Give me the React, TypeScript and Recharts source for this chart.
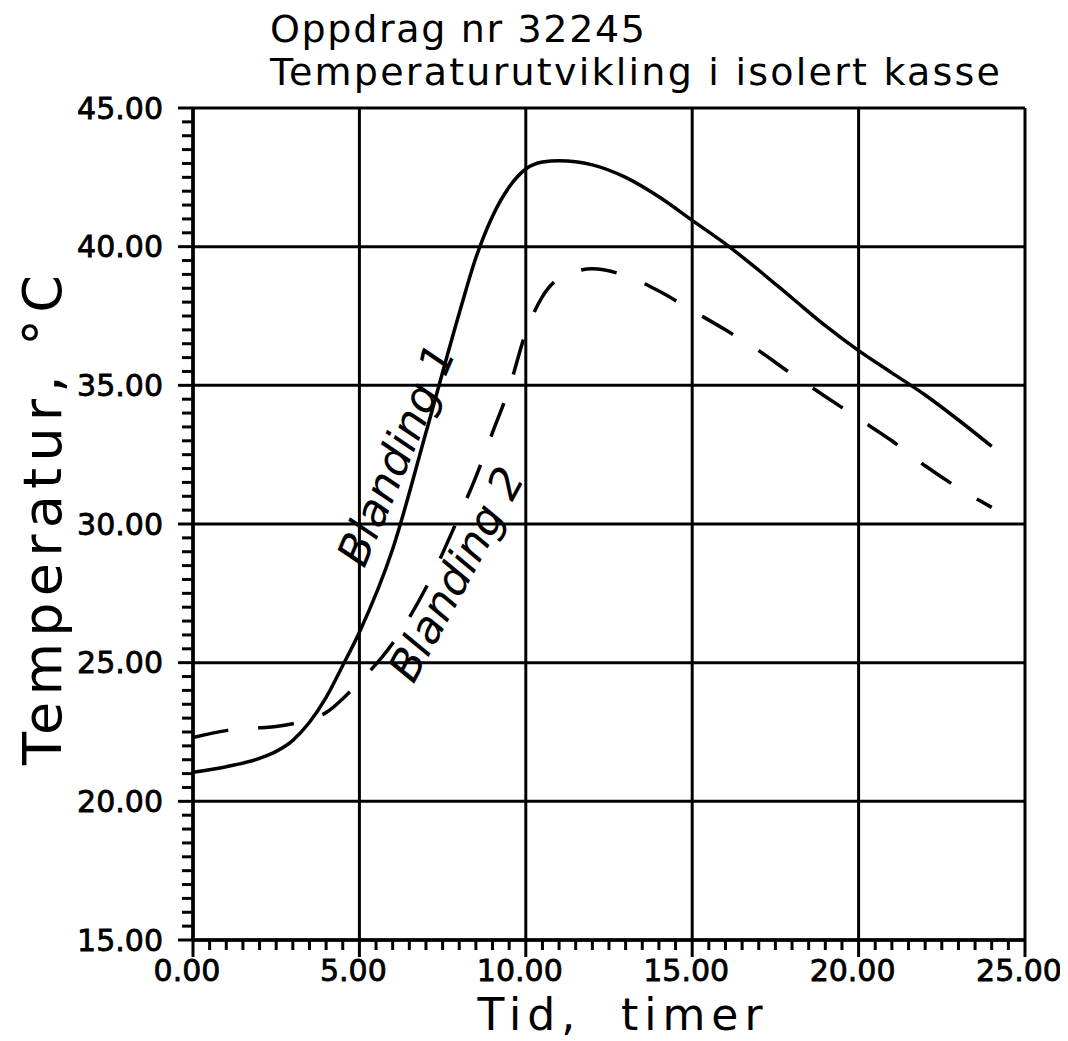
import { CartesianGrid, Line, LineChart, ReferenceDot, XAxis, YAxis } from 'recharts'

const FONT = 'DejaVu Sans'

// time in hours
const hours = [0, 1, 2, 2.5, 3, 3.5, 4, 4.5, 5, 6, 7, 8, 8.5, 9, 9.5, 10, 10.5, 11, 12, 13, 14, 15, 16, 17, 18, 19, 20, 21, 22, 23, 24]
const blanding1 = [21.05, 21.25, 21.55, 21.8, 22.2, 22.85, 23.75, 24.9, 26.1, 29.1, 33.3, 37.6, 39.6, 41.1, 42.15, 42.8, 43.05, 43.1, 42.95, 42.5, 41.8, 40.95, 40.1, 39.15, 38.15, 37.15, 36.25, 35.45, 34.65, 33.75, 32.8]
const blanding2 = [22.3, 22.55, 22.65, 22.7, 22.8, 22.95, 23.2, 23.7, 24.3, 25.7, 27.7, 30.3, 31.7, 33.3, 34.9, 36.9, 38.2, 38.85, 39.2, 38.95, 38.4, 37.7, 37.0, 36.25, 35.4, 34.6, 33.8, 33.0, 32.1, 31.3, 30.6]

const xMajor = [0, 5, 10, 15, 20, 25]
const yMajor = [15, 20, 25, 30, 35, 40, 45]
// minor ticks every half unit
const xTicks = Array.from({ length: 51 }, (_, i) => i * 0.5)
const yTicks = Array.from({ length: 61 }, (_, i) => 15 + i * 0.5)

const data = hours.map((t, i) => ({ t, b1: blanding1[i], b2: blanding2[i] }))

const XTick = ({ x, y, payload }: any) => {
    const v = payload.value
    const major = v % 5 === 0
    return (
        <g>
            <line x1={x} x2={x} y1={y} y2={y + (major ? 17 : 10)} stroke="#000" strokeWidth={3} />
            {major && (
                <text x={x - 6} y={y + 41} textAnchor="middle" fontSize={30} fontFamily={FONT} fill="#000" stroke="#000" strokeWidth={0.8}>
                    {v.toFixed(2)}
                </text>
            )}
        </g>
    )
}

const YTick = ({ x, y, payload }: any) => {
    const v = payload.value
    const major = v % 5 === 0
    return (
        <g>
            <line x1={x - (major ? 15 : 11)} x2={x} y1={y} y2={y} stroke="#000" strokeWidth={3} />
            {major && (
                <text x={x - 30} y={y} textAnchor="end" dominantBaseline="central" fontSize={30} fontFamily={FONT} fill="#000" stroke="#000" strokeWidth={0.8}>
                    {v.toFixed(2)}
                </text>
            )}
        </g>
    )
}

const handNote = (text: string, angle: number) => (props: any) => {
    const vb = props.viewBox
    const cx = vb.x + vb.width / 2
    const cy = vb.y + vb.height / 2
    return (
        <text
            x={cx}
            y={cy}
            textAnchor="middle"
            dominantBaseline="central"
            fontSize={44}
            fontStyle="italic"
            fontFamily={FONT}
            fill="#000"
            transform={`rotate(${angle} ${cx} ${cy})`}
        >
            {text}
        </text>
    )
}

export default function App() {
    return (
        <div style={{ position: 'relative', width: 1056, height: 1033 }}>
            <LineChart
                width={1056}
                height={1033}
                data={data}
                margin={{ top: 100, right: 39, left: 85, bottom: 41 }}
            >
                <CartesianGrid
                    stroke="#000"
                    strokeWidth={3}
                    verticalValues={xMajor}
                    horizontalValues={yMajor}
                />
                <XAxis
                    dataKey="t"
                    type="number"
                    domain={[0, 25]}
                    ticks={xTicks}
                    interval={0}
                    tickSize={0}
                    tickMargin={0}
                    height={60}
                    tick={<XTick />}
                    axisLine={{ stroke: '#000', strokeWidth: 3.5 }}
                />
                <YAxis
                    type="number"
                    domain={[15, 45]}
                    ticks={yTicks}
                    interval={0}
                    tickSize={0}
                    tickMargin={0}
                    width={100}
                    tick={<YTick />}
                    axisLine={{ stroke: '#000', strokeWidth: 3.5 }}
                />
                <Line
                    type="monotone"
                    dataKey="b1"
                    stroke="#000"
                    strokeWidth={3.5}
                    dot={false}
                    isAnimationActive={false}
                />
                <Line
                    type="monotone"
                    dataKey="b2"
                    stroke="#000"
                    strokeWidth={3.5}
                    strokeDasharray="36 30"
                    dot={false}
                    isAnimationActive={false}
                />
                <ReferenceDot x={6.1} y={32.5} r={1} fill="none" stroke="none" label={{ content: handNote('Blanding 1', -67) }} />
                <ReferenceDot x={7.9} y={28.2} r={1} fill="none" stroke="none" label={{ content: handNote('Blanding 2', -61.5) }} />
            </LineChart>
            <svg
                width={1056}
                height={1033}
                style={{ position: 'absolute', left: 0, top: 0, pointerEvents: 'none' }}
            >
                <g fontFamily={FONT} fill="#000">
                    <text x={262} y={34} fontSize={38} textLength={375} lengthAdjust="spacing">
                        Oppdrag nr 32245
                    </text>
                    <text x={262} y={77} fontSize={38} textLength={730} lengthAdjust="spacing">
                        Temperaturutvikling i isolert kasse
                    </text>
                    <text x={612} y={1022} fontSize={44} textAnchor="middle" textLength={285} lengthAdjust="spacing" xmlSpace="preserve">
                        Tid,  timer
                    </text>
                    <text
                        x={53}
                        y={512}
                        fontSize={54}
                        textAnchor="middle"
                        textLength={490}
                        lengthAdjust="spacing"
                        transform="rotate(-90 53 512)"
                    >
                        Temperatur, °C
                    </text>
                </g>
            </svg>
        </div>
    )
}
